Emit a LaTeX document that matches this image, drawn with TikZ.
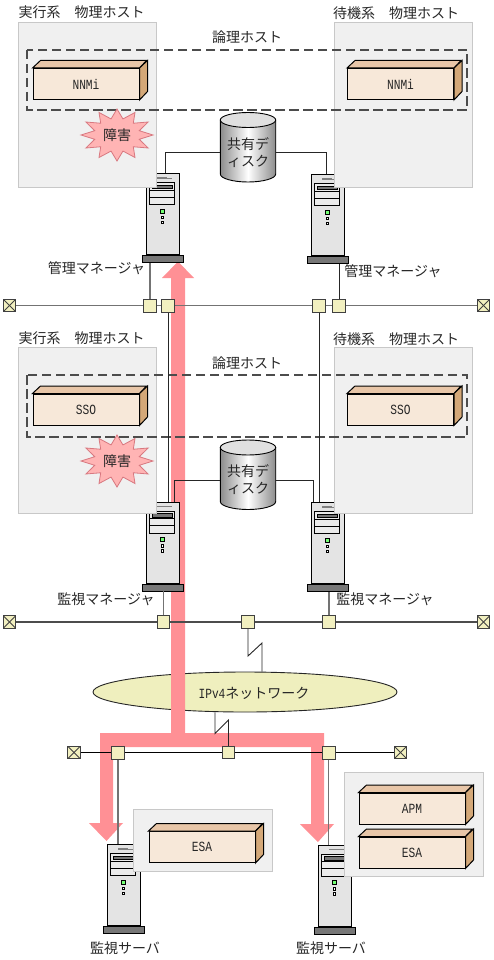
\documentclass[tikz,border=0pt]{standalone}
\usepackage{fontspec}
\setmainfont{Noto Sans CJK JP}
\newfontfamily\latinmono[FakeStretch=0.8]{Liberation Mono}
\usetikzlibrary{shapes.geometric}
\definecolor{hostgray}{HTML}{F0F0F0}
\definecolor{hostedge}{HTML}{C8C8C8}
\definecolor{boxfront}{HTML}{F7E8D9}
\definecolor{boxtop}{HTML}{E8C6A8}
\definecolor{boxside}{HTML}{D4A878}
\definecolor{nodeyellow}{HTML}{F2F0C0}
\definecolor{netyellow}{HTML}{EFEFBE}
\definecolor{flowpink}{HTML}{FF9095}
\definecolor{burstfill}{HTML}{FFB4B4}
\definecolor{burstedge}{HTML}{D87880}
\definecolor{srvbody}{HTML}{E4E4E4}
\definecolor{srvbase}{HTML}{777777}
\tikzset{
  label/.style={font=\fontsize{14}{17}\selectfont, text=black!85, inner sep=0pt, align=center},
  applabel/.style={font=\latinmono\fontsize{14}{16}\selectfont, text=black!85},
  hostbox/.style={fill=hostgray, draw=hostedge, line width=0.9pt},
  logical/.style={draw=black!70, line width=1.1pt, dash pattern=on 9.5pt off 4.5pt},
  appfront/.style={draw=black, line width=1pt, fill=boxfront, inner sep=0pt, anchor=north west,
    minimum width=106, minimum height=31, applabel},
  appface/.style={draw=black, line width=1pt, fill=#1},
  junction/.style={draw=black!75, line width=1pt, fill=nodeyellow, inner sep=0pt, minimum size=#1},
  junction/.default=13,
  terminator/.style={draw=black!75, line width=1pt, fill=nodeyellow, inner sep=0pt, minimum size=12.5,
    path picture={
      \draw[black!75] (path picture bounding box.north west) -- (path picture bounding box.south east);
      \draw[black!75] (path picture bounding box.north east) -- (path picture bounding box.south west);
    }},
  lanA/.style={draw=black!55, line width=1.5pt},
  lanB/.style={draw=black!70, line width=1.2pt},
  lanC/.style={draw=black, line width=0.9pt},
  cable/.style={draw=black!85, line width=0.9pt},
  drop/.style={draw=black!55, line width=1.4pt},
  flow/.style={fill=flowpink},
  burst/.style={fill=burstfill, draw=burstedge, line width=0.8pt},
  srvfront/.style={draw=black, line width=1pt, fill=srvbody, inner sep=0pt, anchor=north west,
    minimum width=32.5, minimum height=81},
  srvfoot/.style={draw=black, line width=0.7pt, fill=srvbase, inner sep=0pt, anchor=north,
    minimum width=41, minimum height=7},
}
% server tower: name, top-left x, top-left y
\newcommand{\servertower}[3]{
  \node[srvfront] (#1) at (#2,#3) {};
  \node[srvfoot] (#1foot) at (#1.south) {};
  \begin{scope}[shift={(#2,#3)}]
    \draw[black!50, line width=1.6pt] (11,5) -- (21,5);
    \draw[black!50, line width=0.6pt] (21,5) -- (26,5);
    \draw[black, line width=0.7pt, fill=white!92!black] (3.5,9.7) rectangle (28.5,31.7);
    \draw[black, line width=0.7pt] (3.5,17) -- (28.5,17) (3.5,24) -- (28.5,24);
    \draw[black, line width=0.6pt, fill=srvbase] (6.3,12) rectangle (26.7,15.7);
    \draw[black, line width=0.7pt, fill=green!55!white] (14.3,36.3) rectangle (18.3,40.3);
    \draw[black, line width=0.6pt, fill=white] (15.1,43.1) rectangle (17.5,45.5);
    \draw[black, line width=0.6pt, fill=white] (15.1,48.1) rectangle (17.5,50.5);
  \end{scope}
}
% application block: name, top-left x, top-left y, text
\newcommand{\appblock}[4]{
  \node[appfront] (#1) at (#2,#3) {#4};
  \draw[appface=boxtop] (#1.north west) -- ++(8,-7.5) -- ++(106,0) -- (#1.north east) -- cycle;
  \draw[appface=boxside] (#1.north east) -- ++(8,-7.5) -- ++(0,31) -- (#1.south east) -- cycle;
}
% shared disk: name, centre x, top of body
\newcommand{\shareddisk}[3]{
  \path[draw=black, line width=0.9pt, left color=black!45, right color=black!45, middle color=white]
    (#2-27.7,#3) -- (#2-27.7,#3+54) arc[start angle=180, end angle=0, x radius=27.7, y radius=8]
    -- (#2+27.7,#3) -- cycle;
  \draw[black, line width=0.9pt, fill=black!12] (#2,#3) ellipse[x radius=27.7, y radius=7.5];
  \node[label, minimum width=55.4] (#1) at (#2,#3+32.5) {共有デ\\ィスク};
}
% fault burst: name, centre x, centre y
\newcommand{\faultburst}[3]{
  \draw[burst, shift={(#2,#3)}] plot[variable=\a, samples at={0,15,...,345}]
    ({(1-0.36*mod(\a,30)/15)*36*cos(\a)},{(1-0.36*mod(\a,30)/15)*26*sin(\a)}) -- cycle;
  \node[label] (#1) at (#2,#3) {障害};
}

\begin{document}
\begin{tikzpicture}[x=1pt,y=-1pt]
\useasboundingbox (0,0) rectangle (493,960);

%--- Network cloud, under the flow arrow ---
\node[ellipse, draw=black!85, line width=0.9pt, fill=netyellow, minimum width=304, minimum height=40,
  inner sep=0pt] (ipnet) at (245,692) {};
\node[label] (ipnetlabel) at (254,693) {{\latinmono\fontsize{14}{16}\selectfont IPv4}ネットワーク};

%--- Flow arrow ---
\fill[flow] (171,733) -- (171,278) -- (162,278) -- (178,261.5) -- (194,278) -- (185,278) -- (185,733)
  -- (324,733) -- (324,824) -- (334,824) -- (318,842) -- (300,824) -- (311,824) -- (311,747)
  -- (113,747) -- (113,823) -- (123,823) -- (106.5,841) -- (89,823) -- (100,823) -- (100,733) -- cycle;

%--- Servers ---
\servertower{srvMgrAct}{146}{173}
\servertower{srvMgrSby}{311}{174}
\servertower{srvMonAct}{146}{501.5}
\servertower{srvMonSby}{311}{502}
\servertower{srvEsa}{107}{844}
\servertower{srvApm}{318}{844.5}

%--- Physical hosts ---
\draw[hostbox] (18,22) rectangle (156,187);
\draw[hostbox] (334,22) rectangle (472,187);
\draw[hostbox] (18,347) rectangle (156,513);
\draw[hostbox] (334,347) rectangle (472,513);
\draw[hostbox] (133.5,809.5) rectangle (272.5,871.5);
\draw[hostbox] (344.5,772.5) rectangle (483.5,876.5);

\draw[logical] (27,50) rectangle (467,110);
\draw[logical] (27,375) rectangle (467,437);

%--- Applications ---
\appblock{nnmiAct}{32.5}{68}{NNMi}
\appblock{nnmiSby}{347}{68}{NNMi}
\appblock{ssoAct}{32.5}{393.5}{SSO}
\appblock{ssoSby}{347}{393.5}{SSO}
\appblock{esaAct}{148.5}{831}{ESA}
\appblock{apmSby}{358.5}{792.5}{APM}
\appblock{esaSby}{358.5}{836.5}{ESA}

%--- Disks and faults ---
\shareddisk{diskMgr}{248}{120}
\shareddisk{diskMon}{248}{447.5}
\faultburst{faultMgr}{117}{135}
\faultburst{faultMon}{117}{461}

%--- LANs ---
\node[terminator] (termAl) at (9.5,305.5) {};
\node[junction] (jMgrAct) at (150,305.5) {};
\node[junction] (jMonAct) at (168,305.5) {};
\node[junction] (jMonSby) at (319,305.5) {};
\node[junction] (jMgrSby) at (339,305.5) {};
\node[terminator] (termAr) at (483.5,305.5) {};

\node[terminator] (termBl) at (9.5,622) {};
\node[junction=12.5] (jMonA) at (163.5,622) {};
\node[junction=12.5] (jNetB) at (248,622) {};
\node[junction=12.5] (jMonB) at (329,622) {};
\node[terminator] (termBr) at (483.5,622) {};

\node[terminator] (termCl) at (74,752.5) {};
\node[junction] (jEsa) at (118,752.5) {};
\node[junction=12.5] (jNetC) at (228.5,752.5) {};
\node[junction] (jApm) at (328.5,752.5) {};
\node[terminator] (termCr) at (400.5,752.5) {};

\draw[lanA] (termAl) -- (jMgrAct) -- (jMonAct) -- (jMonSby) -- (jMgrSby) -- (termAr);
\draw[lanB] (termBl) -- (jMonA) -- (jNetB) -- (jMonB) -- (termBr);
\draw[lanC] (termCl) -- (jEsa) -- (jNetC) -- (jApm) -- (termCr);

%--- Drops to servers ---
\draw[drop] (jMgrAct) -- (jMgrAct |- srvMgrActfoot.south);
\draw[cable] (jMgrSby) -- (jMgrSby |- srvMgrSbyfoot.south);
\draw[cable] (jMonAct) -- (jMonAct |- srvMonAct.north);
\draw[cable] (jMonSby) -- (jMonSby |- srvMonSby.north);
\draw[drop] (jMonA) -- (jMonA |- srvMonActfoot.south);
\draw[drop] (jMonB) -- (jMonB |- srvMonSbyfoot.south);
\draw[drop] (jEsa) -- (jEsa |- srvEsa.north);
\draw[drop] (jApm) -- (jApm |- srvApm.north);

% disk cables
\draw[cable] (diskMgr.west) -| ([xshift=2.7]srvMgrAct.north);
\draw[cable] (diskMgr.east) -| ([xshift=-1.5]srvMgrSby.north);
\draw[cable] (diskMon.west) -| ([xshift=12]srvMonAct.north);
\draw[cable] (diskMon.east) -| ([xshift=-14.7]srvMonSby.north);

% zigzag links to the cloud
\coordinate (zigAlow) at (248,656);
\coordinate (zigAhigh) at (262,643);
\coordinate (zigBlow) at (215,733.5);
\coordinate (zigBhigh) at (228.5,720);
\draw[cable] (jNetB) -- (zigAlow) -- (zigAhigh) -- (zigAhigh |- ipnet.north);
\draw[cable] (jNetC) -- (zigBhigh) -- (zigBlow) -- (zigBlow |- ipnet.south);

%--- Labels ---
\node[label] (hostActA) at (81.5,12) {実行系　物理ホスト};
\node[label] (hostSbyA) at (396,13) {待機系　物理ホスト};
\node[label] (logicA) at (247,37) {論理ホスト};
\node[label] (hostActB) at (81.5,338) {実行系　物理ホスト};
\node[label] (hostSbyB) at (396,339) {待機系　物理ホスト};
\node[label] (logicB) at (247,363) {論理ホスト};
\node[label] (mgrAct) at (96.5,268) {管理マネージャ};
\node[label] (mgrSby) at (393,271) {管理マネージャ};
\node[label] (monAct) at (106,599) {監視マネージャ};
\node[label] (monSby) at (385,599) {監視マネージャ};
\node[label] (srvLabelA) at (125,948) {監視サーバ};
\node[label] (srvLabelB) at (331,948) {監視サーバ};

\end{tikzpicture}
\end{document}
